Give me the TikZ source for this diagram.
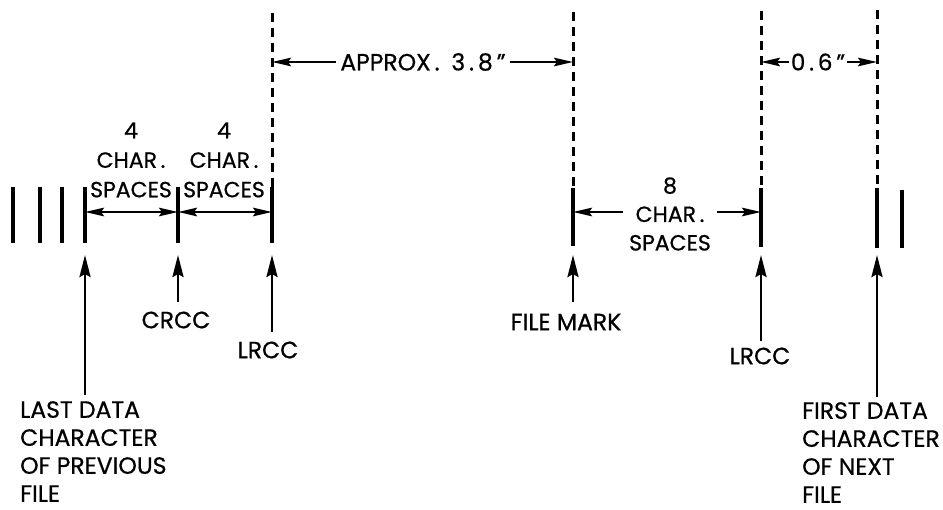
\documentclass[tikz,border=0pt]{standalone}
\usepackage{fontspec}
\setmainfont{Poppins}[FakeBold=0.7]
\usetikzlibrary{arrows.meta}
\begin{document}
\begin{tikzpicture}[x=1pt,y=-1pt,
  bar/.style={line width=4.2pt},
  dashline/.style={line width=3pt, dash pattern=on 9pt off 6pt},
  dimtip/.tip={Stealth[length=19pt,width=8.5pt,inset=3pt]},
  dim/.style={line width=2.4pt, -dimtip},
  dimboth/.style={line width=2.4pt, dimtip-dimtip},
  ptr/.style={line width=2.8pt, -{Stealth[length=22pt,width=11pt,inset=3pt]}},
  lbl/.style={font=\fontsize{23.5}{28}\selectfont, inner sep=0pt, align=left},
  dimtxt/.style={font=\fontsize{22}{29.5}\selectfont, inner sep=0pt, align=center}]
\useasboundingbox (0,0) rectangle (943,510);

% solid bars
\foreach \x in {13,40,62} \draw[bar] (\x,187) -- (\x,243);
\draw[bar] (902,190) -- (902,248);
\coordinate (b1t) at (85,187);  \coordinate (b1b) at (85,243);
\coordinate (b2t) at (178,187); \coordinate (b2b) at (178,243);
\coordinate (b3t) at (272,187); \coordinate (b3b) at (272,243);
\coordinate (b4t) at (573,188); \coordinate (b4b) at (573,246);
\coordinate (b5t) at (761,188); \coordinate (b5b) at (761,247);
\coordinate (b6t) at (877,188); \coordinate (b6b) at (877,248);
\foreach \b in {b1,b2,b3,b4,b5,b6} \draw[bar] (\b t) -- (\b b);

% dashed extensions
\coordinate (d3) at (272,13); \coordinate (d4) at (573,12);
\coordinate (d5) at (761,11); \coordinate (d6) at (877,10);
\foreach \b in {3,4,5,6} \draw[dashline] (d\b) -- (b\b t);

% top dimensions
\coordinate (a3) at (272,62); \coordinate (a4) at (573,62);
\coordinate (a5) at (761,62); \coordinate (a6) at (877,62);
\node[dimtxt, font=\fontsize{23.5}{29}\selectfont, inner xsep=4pt] (approx) at (423,62) {APPROX\,.\enspace 3\,.\,8\,"};
\draw[dim] (approx.west) -- (a3);
\draw[dim] (approx.east) -- (a4);
\node[dimtxt, font=\fontsize{23}{29}\selectfont, inner xsep=2pt] (six) at (818,62) {0\,.\,6\,"};
\draw[dim] (six.west) -- (a5);
\draw[dim] (six.east) -- (a6);

% char spaces
\coordinate (c1) at (85,212); \coordinate (c2) at (178,212); \coordinate (c3) at (272,212);
\draw[dimboth] (c1) -- (c2);
\draw[dimboth] (c2) -- (c3);
\node[dimtxt] (sp1) at (131,160) {4\\CHAR\,.\\SPACES};
\node[dimtxt] (sp2) at (224,160) {4\\CHAR\,.\\SPACES};
\coordinate (c4) at (573,212); \coordinate (c5) at (761,212);
\node[dimtxt, font=\fontsize{22}{28.5}\selectfont, inner xsep=6pt] (sp8) at (670,214) {8\\CHAR\,.\\SPACES};
\draw[dim] (sp8.west |- c4) -- (c4);
\draw[dim] (sp8.east |- c5) -- (c5);

% labels
\node[lbl, anchor=north west] (last) at (20,401) {LAST DATA\\CHARACTER\\OF PREVIOUS\\FILE};
\node[lbl] (crcc) at (176,320) {CRCC};
\node[lbl] (lrcc1) at (268,350) {LRCC};
\node[lbl] (fmark) at (566,322) {FILE MARK};
\node[lbl] (lrcc2) at (760,356) {LRCC};
\node[lbl, anchor=north west] (first) at (802,402) {FIRST DATA\\CHARACTER\\OF NEXT\\FILE};

\draw[ptr, shorten >=12pt, shorten <=6pt] (b1b |- last.north) -- (b1b);
\draw[ptr, shorten >=12pt, shorten <=9pt] (b2b |- crcc.north) -- (b2b);
\draw[ptr, shorten >=12pt, shorten <=9pt] (b3b |- lrcc1.north) -- (b3b);
\draw[ptr, shorten >=9pt, shorten <=12pt] (b4b |- fmark.north) -- (b4b);
\draw[ptr, shorten >=8pt, shorten <=6pt] (b5b |- lrcc2.north) -- (b5b);
\draw[ptr, shorten >=7pt, shorten <=5pt] (b6b |- first.north) -- (b6b);
\end{tikzpicture}
\end{document}
